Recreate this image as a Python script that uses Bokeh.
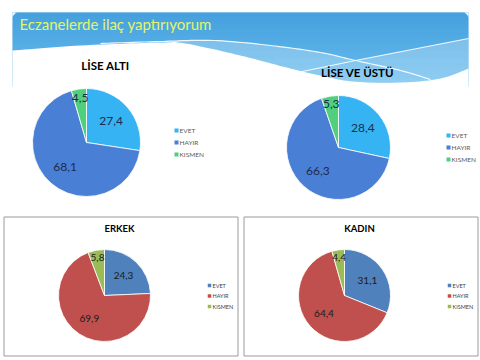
import math
import numpy as np
from bokeh.plotting import figure
from bokeh.models import Range1d, ColumnDataSource
from bokeh.core.properties import value
from bokeh.embed import file_html
from bokeh.resources import INLINE

# ---------------- data ----------------
categories = ["EVET", "HAYIR", "KISMEN"]
lise_alti = [27.4, 68.1, 4.5]
lise_ustu = [28.4, 66.3, 5.3]
erkek = [24.3, 69.9, 5.8]
kadin = [31.1, 64.4, 4.4]
chart_titles = ["LİSE ALTI", "LİSE VE ÜSTÜ", "ERKEK", "KADIN"]
page_title = "Eczanelerde ilaç yaptırıyorum"

colors_top = ["#35b3f2", "#4a7fd6", "#50d07c"]
colors_bottom = ["#4f81bd", "#c0504d", "#9bbb59"]

# ---------------- figure ----------------
W, H = 480, 360
p = figure(width=W, height=H, x_range=Range1d(0, W), y_range=Range1d(0, H),
           output_backend="svg", toolbar_location=None,
           x_axis_location=None, y_axis_location=None, min_border=0)
p.grid.visible = False
p.outline_line_color = None
p.background_fill_color = "white"
p.border_fill_color = "white"


def Y(v):
    return H - v


def lerp_col(c1, c2, t):
    a = [int(c1[i:i + 2], 16) for i in (1, 3, 5)]
    b = [int(c2[i:i + 2], 16) for i in (1, 3, 5)]
    return "#%02x%02x%02x" % tuple(int(round(a[k] + (b[k] - a[k]) * t)) for k in range(3))


def spline(pts, n=12):
    pts = [pts[0]] + list(pts) + [pts[-1]]
    out = []
    for i in range(1, len(pts) - 2):
        p0, p1, p2, p3 = [np.array(q, float) for q in pts[i - 1:i + 3]]
        for t in np.linspace(0, 1, n, endpoint=False):
            t2, t3 = t * t, t * t * t
            q = 0.5 * ((2 * p1) + (-p0 + p2) * t + (2 * p0 - 5 * p1 + 4 * p2 - p3) * t2
                       + (-p0 + 3 * p1 - 3 * p2 + p3) * t3)
            out.append(q)
    out.append(np.array(pts[-2], float))
    return [q[0] for q in out], [q[1] for q in out]


# ---------------- banner ----------------
y0, y1 = 12, 86
strips = np.arange(y0, y1)
ts = (strips - y0) / (y1 - y0)
p.quad(left=12, right=468, top=[Y(s) for s in strips], bottom=[Y(s + 1.05) for s in strips],
       fill_color=[lerp_col("#0780d2", "#3aa9ea", t) for t in ts], line_color=None)

bottom_edge = [(12, 50), (80, 45), (160, 42), (185, 43), (240, 55), (290, 68), (320, 75),
               (353, 81), (400, 82), (440, 78), (468, 68)]
lineA = [(100, 43), (160, 41), (213, 40), (270, 45), (320, 52), (355, 60), (400, 70), (430, 79)]
lineB = [(297, 72), (355, 60), (468, 38)]

# lighter wave region
ax, ay = spline([(160, 41), (213, 40), (270, 45), (320, 52), (355, 60)])
bx, by = spline([(185, 43), (240, 55), (290, 68), (320, 75), (353, 81), (400, 82), (440, 78), (468, 68)])
lx = ax + [468, 468] + bx[::-1]
ly = ay + [38, 68] + by[::-1]
p.patch(lx, [Y(v) for v in ly], fill_color="white", fill_alpha=0.25, line_color=None)

# white area below the banner
ex, ey = spline(bottom_edge)
mx = [12] + ex + [468, 468, 12]
my = [50] + ey + [68, 90, 90]
p.patch(mx, [Y(v) for v in my], fill_color="white", line_color=None)

# rounded top corners
tt = np.linspace(0, math.pi / 2, 10)
p.patch([12] + [18 - 6 * math.cos(t) for t in tt], [Y(12)] + [Y(18 - 6 * math.sin(t)) for t in tt],
        fill_color="white", line_color=None)
p.patch([468] + [462 + 6 * math.cos(t) for t in tt], [Y(12)] + [Y(18 - 6 * math.sin(t)) for t in tt],
        fill_color="white", line_color=None)

# white streaks
sx, sy = spline(lineA)
p.line(sx, [Y(v) for v in sy], line_color="white", line_width=1.2, line_alpha=0.9)
p.line([q[0] for q in lineB], [Y(q[1]) for q in lineB], line_color="white", line_width=1.2, line_alpha=0.9)

p.text(x=[19], y=[Y(23)], text=[page_title], text_font=value("Lato"), text_font_size="15px",
       text_color="#e3f46a", text_baseline="middle", text_align="left")

# ---------------- boxes for bottom charts ----------------
p.quad(left=[3.5, 243.5], right=[237.5, 477.5], top=[Y(216.5)] * 2, bottom=[Y(355.5)] * 2,
       fill_color=None, line_color="#9a9a9a", line_width=1)


# ---------------- pies ----------------
def pie(vals, cx, cy, r, colors, title, tpos, tsize, lab_size, lab_color, leg_x, leg_y, leg_dy,
        leg_size, leg_color, mk):
    v = np.array(vals, float)
    frac = v / v.sum()
    cum = np.concatenate([[0], np.cumsum(frac)])
    start = math.pi / 2 - 2 * math.pi * cum[:-1]
    end = math.pi / 2 - 2 * math.pi * cum[1:]
    mid = (start + end) / 2
    rf = np.where(frac < 0.1, 0.84, 0.6)
    src = ColumnDataSource(dict(start=start, end=end, color=colors,
                                lx=cx + r * rf * np.cos(mid), ly=Y(cy) + r * rf * np.sin(mid),
                                lab=[("%.1f" % x).replace(".", ",") for x in vals]))
    p.wedge(x=cx, y=Y(cy), radius=r, start_angle="start", end_angle="end", direction="clock",
            fill_color="color", line_color="white", line_width=0.8, source=src)
    p.text(x="lx", y="ly", text="lab", source=src, text_font=value("Lato"), text_font_size=lab_size,
           text_color=lab_color, text_align="center", text_baseline="middle")
    p.text(x=[tpos[0]], y=[Y(tpos[1])], text=[title], text_font=value("Lato"), text_font_size=tsize,
           text_font_style="bold", text_color="black", text_align="center", text_baseline="middle")
    ys = [Y(leg_y + i * leg_dy) for i in range(len(categories))]
    p.scatter(x=[leg_x] * len(categories), y=ys, marker="square", size=mk, fill_color=colors,
              line_color=None)
    p.text(x=[leg_x + 3] * len(categories), y=ys, text=categories, text_font=value("Lato"),
           text_font_size=leg_size, text_color=leg_color, text_baseline="middle", text_align="left")


pie(lise_alti, 86, 142, 54, colors_top, chart_titles[0], (105, 65), "11.5px", "12px", "#1d2b4c",
    176, 130, 12, "6.5px", "#5a5a5a", 4)
pie(lise_ustu, 338, 147, 52, colors_top, chart_titles[1], (357, 72), "11.5px", "12px", "#1d2b4c",
    448, 135, 12, "6.5px", "#5a5a5a", 4)
pie(erkek, 104, 295, 46, colors_bottom, chart_titles[2], (119, 228), "9.5px", "10px", "#1a1a1a",
    209, 285, 10.5, "5.5px", "#404040", 3.5)
pie(kadin, 344, 295, 46, colors_bottom, chart_titles[3], (359, 228), "9.5px", "10px", "#1a1a1a",
    449, 285, 10.5, "5.5px", "#404040", 3.5)

open("out.html", "w").write(file_html(p, INLINE))
